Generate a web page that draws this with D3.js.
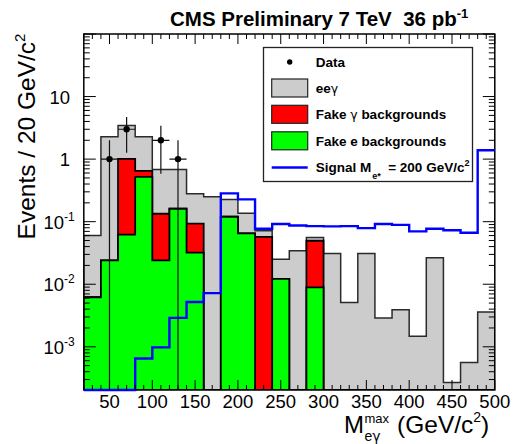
<!DOCTYPE html>
<html><head><meta charset="utf-8">
<script src="https://cdn.jsdelivr.net/npm/d3@7"></script>
<style>body{margin:0;background:#fff} svg{display:block} text{font-family:"Liberation Sans",Arial,Helvetica,sans-serif}</style>
</head><body>
<svg id="c" width="519" height="444"></svg>
<script>
// ---- data ----
const binStarts = [20,40,60,80,100,120,140,160,180,200,220,240,260,280,300,320,340,360,380,400,420,440,460,480];
const binWidth = 20;
const fakeE     = [0.0062,0.024,0.062,0.52,0.024,0.161,0.032,0,0.12,0.065,0,0.0122,0,0.0089,0,0,0,0,0,0,0,0,0,0];
const fakeGamma = [0,0,0.95,0.13,0.11,0,0.061,0,0,0,0.057,0,0,0.0407,0,0,0,0,0,0,0,0,0,0];
const eeGamma   = [0.054,2.25,2.44,1.62,0.546,0.519,0.187,0.25,0.107,0.072,0.0146,0.0128,0.0343,0.0064,0.031,0.0051,0.031,0.0029,0.0039,0.00147,0.0265,0.00027,0.00056,0.0036];
const signal    = [0,0,0,0.00065,0.00098,0.0029,0.0052,0.0072,0.283,0.227,0.077,0.0916,0.087,0.085,0.084,0.085,0.079,0.092,0.089,0.070,0.077,0.073,0.0666,1.39];
const dataCounts= [0,1,3,0,2,1,0,0,0,0,0,0,0,0,0,0,0,0,0,0,0,0,0,0];
const xTickValues = [50,100,150,200,250,300,350,400,450,500];
const yTickValues = [10,1,0.1,0.01,0.001];
const yTickBases  = ["10","1","10","10","10"];
const yTickExps   = ["","","-1","-2","-3"];
const legendLabels = ["Data","ee","Fake ","Fake e backgrounds","Signal M"];

// ---- layout ----
const W=519,H=444;
const L=83.8,R=494.8,T=34,B=390;
const yMin=2.04e-4,yMax=100;
const x = d3.scaleLinear().domain([20,500]).range([L,R]);
const y = d3.scaleLog().domain([yMin,yMax]).range([B,T]);
const yc = v => v>yMin ? y(v) : B;
const n = binStarts.length;

const svg = d3.select('#c');
svg.append('rect').attr('width',W).attr('height',H).attr('fill','#fff');
const defs = svg.append('defs');
defs.append('clipPath').attr('id','clip').append('rect').attr('x',L).attr('y',T).attr('width',R-L).attr('height',B-T);
defs.append('clipPath').attr('id','clip2').append('rect').attr('x',L).attr('y',T).attr('width',R-L).attr('height',B-T+2);

const cumGreen = fakeE.slice();
const cumRed = fakeE.map((v,i)=>v+fakeGamma[i]);
const cumGray = cumRed.map((v,i)=>v+eeGamma[i]);

function stepPath(vals, close){
  let p = `M${x(binStarts[0])},${B}`;
  vals.forEach((v,i)=>{
    const x0=x(binStarts[i]), x1=x(binStarts[i]+binWidth), yy=yc(v);
    p += `L${x0},${yy}L${x1},${yy}`;
  });
  if(close){ p += `L${x(binStarts[n-1]+binWidth)},${B}Z`; }
  return p;
}

const g = svg.append('g').attr('clip-path','url(#clip)');
g.append('path').attr('d',stepPath(cumGray,true)).attr('fill','#cccccc').attr('stroke','#2a2a2a').attr('stroke-width',1.5);
g.append('path').attr('d',stepPath(cumRed,true)).attr('fill','#ff0000').attr('stroke','#000').attr('stroke-width',1.8);
g.append('path').attr('d',stepPath(cumGreen,true)).attr('fill','#00ff00').attr('stroke','#000').attr('stroke-width',1.8);

// data points with sqrt(N) errors
const pts = dataCounts.map((c,i)=>({c,i})).filter(d=>d.c>0);
pts.forEach(d=>{
  const cx = x(binStarts[d.i]+binWidth/2), cy = y(d.c);
  const up = d.c+Math.sqrt(d.c), lo = d.c-Math.sqrt(d.c);
  g.append('line').attr('x1',cx).attr('x2',cx).attr('y1',y(up)).attr('y2',yc(lo)).attr('stroke','#111').attr('stroke-width',1.2);
  g.append('line').attr('x1',x(binStarts[d.i])).attr('x2',x(binStarts[d.i]+binWidth)).attr('y1',cy).attr('y2',cy).attr('stroke','#111').attr('stroke-width',1.2);
  g.append('circle').attr('cx',cx).attr('cy',cy).attr('r',3.2).attr('fill','#000');
});

// frame
svg.append('rect').attr('x',L).attr('y',T).attr('width',R-L).attr('height',B-T).attr('fill','none').attr('stroke','#000').attr('stroke-width',1.5);

// signal line
svg.append('g').attr('clip-path','url(#clip2)').append('path').attr('d',stepPath(signal,false))
  .attr('fill','none').attr('stroke','#0000ff').attr('stroke-width',2.4);

// ticks
const tk = svg.append('g').attr('stroke','#000').attr('stroke-width',1);
const xMinor = d3.range(20,501,10);
xMinor.forEach(v=>{
  const len = xTickValues.includes(v)?10:5;
  tk.append('line').attr('x1',x(v)).attr('x2',x(v)).attr('y1',B).attr('y2',B-len);
  tk.append('line').attr('x1',x(v)).attr('x2',x(v)).attr('y1',T).attr('y2',T+len);
});
const yTicks=[];
[-4,-3,-2,-1,0,1].forEach(e=>{ for(let m=1;m<=9;m++){ const v=m*Math.pow(10,e); if(v>=yMin*0.999 && v<=yMax*1.001) yTicks.push({v,major:m===1}); } });
yTicks.push({v:100,major:true});
yTicks.forEach(t=>{
  const len = t.major?12:6, yy=y(t.v);
  tk.append('line').attr('x1',L).attr('x2',L+len).attr('y1',yy).attr('y2',yy);
  tk.append('line').attr('x1',R).attr('x2',R-len).attr('y1',yy).attr('y2',yy);
});

// tick labels
xTickValues.forEach(v=>{
  svg.append('text').attr('x',x(v)).attr('y',408).attr('text-anchor','middle').attr('font-size',18.5).text(v);
});
yTickValues.forEach((v,i)=>{
  const yy=y(v)+7;
  if(yTickExps[i]===''){
    svg.append('text').attr('x',70).attr('y',yy).attr('text-anchor','end').attr('font-size',18.5).text(yTickBases[i]);
  } else {
    const t=svg.append('text').attr('x',43.5).attr('y',yy).attr('font-size',18.5).text(yTickBases[i]);
    t.append('tspan').attr('font-size',12).attr('dy',-8).text(yTickExps[i]);
  }
});

// title
const title = svg.append('text').attr('x',170).attr('y',26).attr('font-size',20.5).attr('font-weight','bold').style('white-space','pre').text('CMS Preliminary 7 TeV  36 pb');
title.append('tspan').attr('font-size',13).attr('dy',-8).text('-1');

// y label
const yl = svg.append('text').attr('transform','translate(35,136.5) rotate(-90)').attr('text-anchor','middle').attr('font-size',24.5).text('Events / 20 GeV/c');
yl.append('tspan').attr('font-size',15).attr('dy',-10).text('2');

// x label
const mT = svg.append('text').attr('x',344).attr('y',433).attr('font-size',24).text('M');
const mW = mT.node().getComputedTextLength();
const supT = svg.append('text').attr('x',344+mW+0.5).attr('y',422.5).attr('font-size',13).text('max');
const subT = svg.append('text').attr('x',344+mW+0.5).attr('y',440.5).attr('font-size',14).text('e');
subT.append('tspan').style('font-family','"DejaVu Sans",sans-serif').text('γ');
const scrEnd = 344+mW+0.5+Math.max(supT.node().getComputedTextLength(), subT.node().getComputedTextLength());
const unit = svg.append('text').attr('x',scrEnd+8).attr('y',433).attr('font-size',24.5).text('(GeV/c');
unit.append('tspan').attr('font-size',14).attr('dy',-11).text('2');
unit.append('tspan').attr('dy',11).text(')');

// legend
const lg = svg.append('g');
lg.append('rect').attr('x',263.5).attr('y',47.5).attr('width',209).attr('height',134).attr('fill','#fff').attr('stroke','#222').attr('stroke-width',1.3);
const rowsY=[62,88,114.3,140.8,167.5];
const symX=271.7, symW=36, txtX=315.7;
lg.append('circle').attr('cx',symX+symW/2).attr('cy',rowsY[0]).attr('r',2.7).attr('fill','#000');
[['#cccccc',1],['#ff0000',2],['#00ff00',3]].forEach(([c,i])=>{
  lg.append('rect').attr('x',symX).attr('y',rowsY[i]-9).attr('width',symW).attr('height',18).attr('fill',c).attr('stroke','#222').attr('stroke-width',1.2);
});
lg.append('line').attr('x1',symX).attr('x2',symX+symW).attr('y1',rowsY[4]).attr('y2',rowsY[4]).attr('stroke','#0000ff').attr('stroke-width',2.4);
const lt = (i)=>lg.append('text').attr('x',txtX).attr('y',rowsY[i]+4.8).attr('font-size',13.5).attr('font-weight','bold').style('white-space','pre');
lt(0).text(legendLabels[0]);
const l1=lt(1).text(legendLabels[1]); l1.append('tspan').attr('font-weight','normal').style('font-family','"DejaVu Sans",sans-serif').attr('font-size',12.5).text('γ');
const l2=lt(2).text(legendLabels[2]); l2.append('tspan').attr('font-weight','normal').style('font-family','"DejaVu Sans",sans-serif').attr('font-size',12.5).text('γ');
l2.append('tspan').text(' backgrounds');
lt(3).text(legendLabels[3]);
const l4=lt(4).text(legendLabels[4]);
l4.append('tspan').attr('font-size',9).attr('dy',7).attr('dx',1).text('e*');
l4.append('tspan').attr('dy',-7).text('  = 200 GeV/c');
l4.append('tspan').attr('font-size',9).attr('dy',-6).text('2');
</script>
</body></html>
